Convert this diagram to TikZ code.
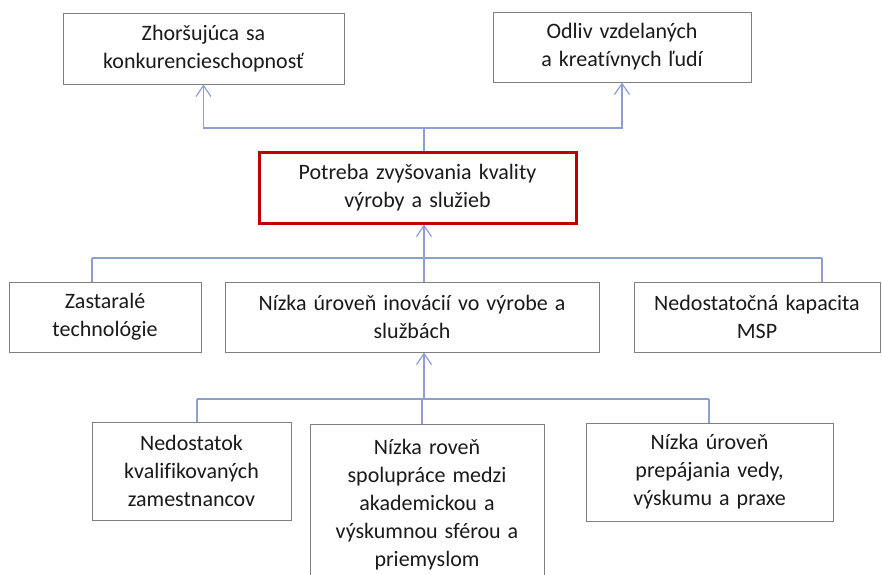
\documentclass[tikz,border=0pt]{standalone}
\usepackage{fontspec}
\setmainfont{Carlito}[RawFeature=-liga]
\usetikzlibrary{arrows.meta}
\definecolor{conncol}{HTML}{8C9FD0}
\definecolor{boxcol}{HTML}{7F7F7F}
\definecolor{redcol}{HTML}{C00000}
\definecolor{txtcol}{HTML}{1A1A1A}
\newcommand{\myboxfont}{\fontsize{22}{28}\selectfont\spaceskip=0.32em plus 0.1em\relax}
\tikzset{
  box/.style={draw=boxcol, line width=1pt, align=center, inner sep=0pt, text=txtcol,
    font=\myboxfont},
  redbox/.style={box, draw=redcol, line width=3pt},
  conn/.style={draw=conncol, line width=1.3pt},
  arr/.style={conn, -{Straight Barb[length=11pt,width=15pt,line width=1.2pt]}}
}
\begin{document}
\begin{tikzpicture}[x=1pt,y=-1pt]
\fill[white] (0,0) rectangle (882,574);
\clip (0,0) rectangle (882,574);
% top row
\node[box, minimum width=281pt, minimum height=71pt] (z) at (203.5,48.5) {Zhoršujúca sa\\konkurencieschopnosť};
\node[box, minimum width=258pt, minimum height=70pt] (o) at (622,47) {Odliv vzdelaných\\a kreatívnych ľudí};
% center
\node[redbox, minimum width=317pt, minimum height=71pt] (r) at (417.5,187.5) {Potreba zvyšovania kvality\\výroby a služieb};
% middle row
\node[box, minimum width=192pt, minimum height=70pt] (zt) at (105,317) {Zastaralé\\technológie};
\node[box, minimum width=374pt, minimum height=70pt] (ni) at (412,317) {Nízka úroveň inovácií vo výrobe a\\službách};
\node[box, minimum width=246pt, minimum height=70pt] (nd) at (757,317) {Nedostatočná kapacita\\MSP};
% bottom row
\node[box, minimum width=199pt, minimum height=98pt] (nk) at (191.5,471) {Nedostatok\\kvalifikovaných\\zamestnancov};
\node[box, minimum width=234pt, minimum height=162pt] (ns) at (427,505) {Nízka roveň\\spolupráce medzi\\akademickou a\\výskumnou sférou a\\priemyslom};
\node[box, minimum width=247pt, minimum height=98pt] (np) at (709.5,472) {Nízka úroveň\\prepájania vedy,\\výskumu a praxe};
% junctions
\coordinate (j1) at (424,128);
\coordinate (j2) at (424,258);
\coordinate (j2l) at (92,258);
\coordinate (j2r) at (822,258);
\coordinate (j3) at (424,399);
\coordinate (j3l) at (197,399);
\coordinate (j3m) at (422,399);
\coordinate (j3r) at (709,399);
% connectors top
\draw[conn] (r.north -| j1) -- (j1);
\draw[arr] (j1) -| (z.south);
\draw[arr] (j1) -| (o.south);
% connectors middle
\draw[conn] (j2l) -- (j2r);
\draw[conn] (j2l) -- (j2l |- zt.north);
\draw[conn] (j2r) -- (j2r |- nd.north);
\draw[conn] (j2 |- ni.north) -- (j2);
\draw[arr] (j2) -- (r.south -| j2);
% connectors bottom
\draw[conn] (j3l) -- (j3r);
\draw[conn] (j3l) -- (j3l |- nk.north);
\draw[conn] (j3m) -- (j3m |- ns.north);
\draw[conn] (j3r) -- (j3r |- np.north);
\draw[arr] (j3) -- (ni.south -| j3);
\end{tikzpicture}
\end{document}
